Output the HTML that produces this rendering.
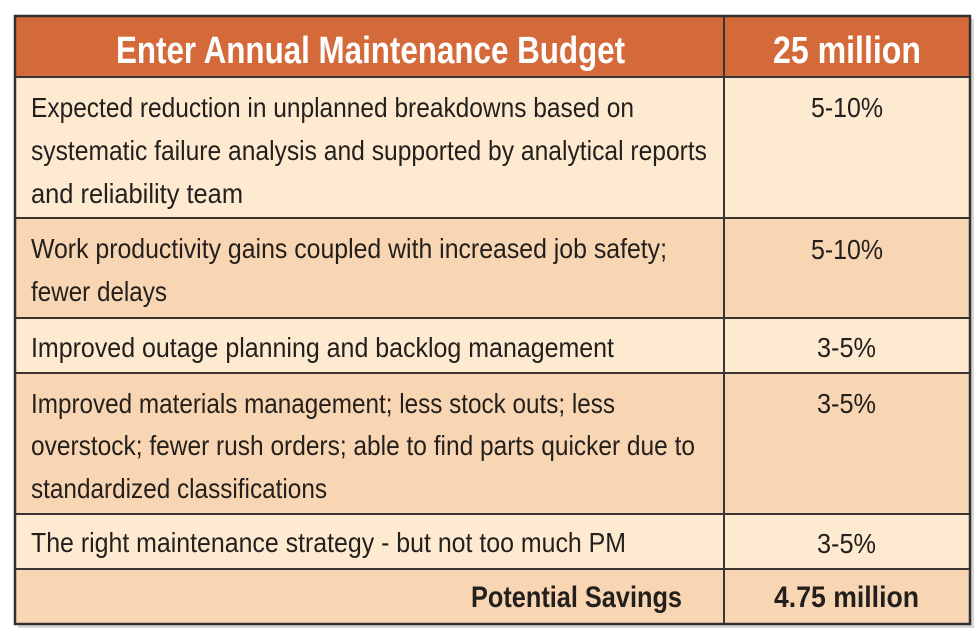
<!DOCTYPE html>
<html>
<head>
<meta charset="utf-8">
<style>
  html, body { margin: 0; padding: 0; background: #ffffff; }
  body { width: 980px; height: 635px; overflow: hidden; }
  svg { display: block; }
  .t { font-family: "Liberation Sans Narrow", "Liberation Sans", sans-serif; font-size: 28px; fill: #231f1c; }
  .b { font-family: "Liberation Sans Narrow", "Liberation Sans", sans-serif; font-weight: bold; }
</style>
</head>
<body>
<svg width="980" height="635" viewBox="0 0 980 635" xmlns="http://www.w3.org/2000/svg">
  <!-- shadow -->
  <rect x="18" y="19" width="956" height="609" fill="#d9d9d9"/>
  <!-- fills -->
  <rect x="15" y="16" width="955" height="61" fill="#d4693a"/>
  <rect x="15" y="77" width="955" height="141" fill="#fdead1"/>
  <rect x="15" y="218" width="955" height="100" fill="#f9d6b3"/>
  <rect x="15" y="318" width="955" height="55" fill="#fdead1"/>
  <rect x="15" y="373" width="955" height="141" fill="#f9d6b3"/>
  <rect x="15" y="514" width="955" height="55" fill="#fdead1"/>
  <rect x="15" y="569" width="955" height="55" fill="#f9d6b3"/>

  <!-- grid lines -->
  <g stroke="#3a3532" stroke-width="2">
    <line x1="15" y1="77" x2="970" y2="77"/>
    <line x1="15" y1="218" x2="970" y2="218"/>
    <line x1="15" y1="318" x2="970" y2="318"/>
    <line x1="15" y1="373" x2="970" y2="373"/>
    <line x1="15" y1="514" x2="970" y2="514"/>
    <line x1="15" y1="569" x2="970" y2="569"/>
    <line x1="724" y1="16" x2="724" y2="624"/>
  </g>
  <rect x="15" y="16" width="955" height="608" fill="none" stroke="#333030" stroke-width="2.5"/>

  <!-- header -->
  <text class="b" x="116" y="63" font-size="38" fill="#ffffff" textLength="509" lengthAdjust="spacingAndGlyphs">Enter Annual Maintenance Budget</text>
  <text class="b" x="773" y="63" font-size="38" fill="#ffffff" textLength="148" lengthAdjust="spacingAndGlyphs">25 million</text>

  <!-- row 1 -->
  <text class="t" x="31" y="117" textLength="603" lengthAdjust="spacingAndGlyphs">Expected reduction in unplanned breakdowns based on</text>
  <text class="t" x="31" y="160" textLength="676" lengthAdjust="spacingAndGlyphs">systematic failure analysis and supported by analytical reports</text>
  <text class="t" x="31" y="203" textLength="212" lengthAdjust="spacingAndGlyphs">and reliability team</text>
  <text class="t" x="811" y="117" textLength="72" lengthAdjust="spacingAndGlyphs">5-10%</text>

  <!-- row 2 -->
  <text class="t" x="31" y="258" textLength="636" lengthAdjust="spacingAndGlyphs">Work productivity gains coupled with increased job safety;</text>
  <text class="t" x="31" y="301" textLength="136" lengthAdjust="spacingAndGlyphs">fewer delays</text>
  <text class="t" x="811" y="259" textLength="72" lengthAdjust="spacingAndGlyphs">5-10%</text>

  <!-- row 3 -->
  <text class="t" x="31" y="357" textLength="583" lengthAdjust="spacingAndGlyphs">Improved outage planning and backlog management</text>
  <text class="t" x="817" y="357" textLength="59" lengthAdjust="spacingAndGlyphs">3-5%</text>

  <!-- row 4 -->
  <text class="t" x="31" y="413" textLength="584" lengthAdjust="spacingAndGlyphs">Improved materials management; less stock outs; less</text>
  <text class="t" x="31" y="455" textLength="664" lengthAdjust="spacingAndGlyphs">overstock; fewer rush orders; able to find parts quicker due to</text>
  <text class="t" x="31" y="498" textLength="296" lengthAdjust="spacingAndGlyphs">standardized classifications</text>
  <text class="t" x="817" y="413" textLength="59" lengthAdjust="spacingAndGlyphs">3-5%</text>

  <!-- row 5 -->
  <text class="t" x="31" y="552" textLength="595" lengthAdjust="spacingAndGlyphs">The right maintenance strategy - but not too much PM</text>
  <text class="t" x="817" y="553" textLength="59" lengthAdjust="spacingAndGlyphs">3-5%</text>

  <!-- row 6 -->
  <text class="b" x="471" y="607" font-size="30" fill="#231f1c" textLength="211" lengthAdjust="spacingAndGlyphs">Potential Savings</text>
  <text class="b" x="774" y="607" font-size="30" fill="#231f1c" textLength="145" lengthAdjust="spacingAndGlyphs">4.75 million</text>
</svg>
</body>
</html>
